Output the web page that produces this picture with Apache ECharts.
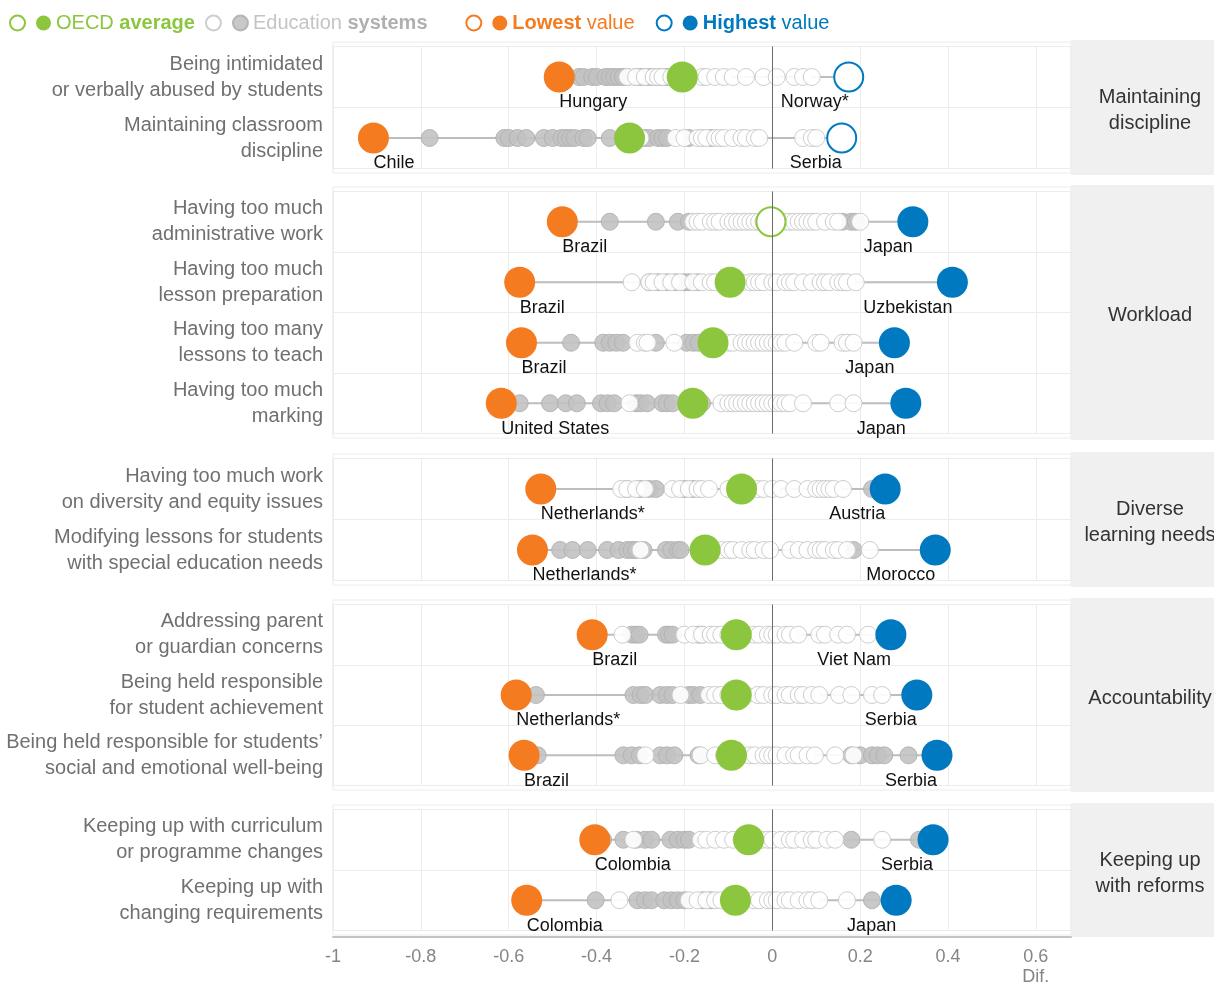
<!DOCTYPE html>
<html>
<head>
<meta charset="utf-8">
<script src="https://cdn.jsdelivr.net/npm/echarts@6/dist/echarts.min.js"></script>
<style>
  html, body { margin: 0; padding: 0; background: #fff; }
  #chart { width: 1214px; height: 986px; }
</style>
</head>
<body>
<div id="chart"></div>
<script>
// ---- data ----
const rowLabels = [
    'Being intimidated\nor verbally abused by students',
    'Maintaining classroom\ndiscipline',
    'Having too much\nadministrative work',
    'Having too much\nlesson preparation',
    'Having too many\nlessons to teach',
    'Having too much\nmarking',
    'Having too much work\non diversity and equity issues',
    'Modifying lessons for students\nwith special education needs',
    'Addressing parent\nor guardian concerns',
    'Being held responsible\nfor student achievement',
    'Being held responsible for students\u2019\nsocial and emotional well-being',
    'Keeping up with curriculum\nor programme changes',
    'Keeping up with\nchanging requirements'
];
const groupNames = ['Maintaining\ndiscipline', 'Workload', 'Diverse\nlearning needs', 'Accountability', 'Keeping up\nwith reforms'];
const groupSize = [2, 4, 2, 3, 2];

const oecdAverage = [-0.205, -0.325, -0.003, -0.096, -0.135, -0.181, -0.07, -0.153, -0.082, -0.082, -0.093, -0.054, -0.084];
const oecdSignificant = [1, 1, 0, 1, 1, 1, 1, 1, 1, 1, 1, 1, 1];

const lowestValue = [-0.485, -0.908, -0.478, -0.575, -0.571, -0.617, -0.527, -0.546, -0.41, -0.583, -0.565, -0.404, -0.559];
const lowestName = ['Hungary', 'Chile', 'Brazil', 'Brazil', 'Brazil', 'United States', 'Netherlands*', 'Netherlands*', 'Brazil', 'Netherlands*', 'Brazil', 'Colombia', 'Colombia'];

const highestValue = [0.174, 0.158, 0.32, 0.41, 0.278, 0.304, 0.257, 0.371, 0.27, 0.329, 0.375, 0.366, 0.282];
const highestName = ['Norway*', 'Serbia', 'Japan', 'Uzbekistan', 'Japan', 'Japan', 'Austria', 'Morocco', 'Viet Nam', 'Serbia', 'Serbia', 'Serbia', 'Japan'];
const highestSignificant = [0, 0, 1, 1, 1, 1, 1, 1, 1, 1, 1, 1, 1];

// education systems, significant difference (filled grey)
const systemsSignificant = [
    [-0.44, -0.43, -0.41, -0.40, -0.38, -0.37, -0.36, -0.35, -0.34, -0.33, -0.31, -0.30, -0.29, -0.28, -0.27, -0.26, -0.25, -0.24, -0.23],
    [-0.78, -0.61, -0.6, -0.58, -0.56, -0.52, -0.5, -0.48, -0.47, -0.46, -0.45, -0.43, -0.42, -0.37, -0.3, -0.29, -0.28, -0.26, -0.25, -0.24, -0.19, -0.14],
    [-0.37, -0.265, -0.215, -0.19, 0.16, 0.18, 0.19],
    [-0.28, -0.26, -0.24, -0.22, -0.2, -0.19, -0.17],
    [-0.458, -0.385, -0.37, -0.355, -0.34, -0.265, -0.195, -0.18, -0.168],
    [-0.575, -0.506, -0.47, -0.445, -0.39, -0.375, -0.36, -0.31, -0.3, -0.285, -0.25, -0.24, -0.227, -0.16],
    [-0.33, -0.3, -0.28, -0.265, -0.2, -0.18, 0.227],
    [-0.483, -0.455, -0.42, -0.376, -0.35, -0.33, -0.32, -0.31, -0.293, -0.242, -0.23, -0.215, -0.209, 0.185],
    [-0.32, -0.31, -0.302, -0.242, -0.235, -0.227, -0.168, -0.16],
    [-0.538, -0.316, -0.3, -0.289, -0.255, -0.24, -0.227, -0.19, -0.18, -0.164],
    [-0.534, -0.339, -0.32, -0.302, -0.255, -0.24, -0.223, -0.168, 0.18, 0.2, 0.227, 0.24, 0.255, 0.31],
    [-0.385, -0.339, -0.31, -0.29, -0.275, -0.232, -0.215, -0.2, -0.19, 0.18, 0.334],
    [-0.402, -0.307, -0.29, -0.275, -0.246, -0.23, -0.215, -0.2, -0.158, -0.14, 0.227]
];
// education systems, not significant (hollow)
const systemsNotSignificant = [
    [-0.33, -0.31, -0.29, -0.27, -0.26, -0.25, -0.23, -0.22, -0.16, -0.15, -0.13, -0.11, -0.09, -0.06, -0.02, 0.01, 0.05, 0.07, 0.09],
    [-0.3, -0.22, -0.2, -0.17, -0.16, -0.15, -0.13, -0.12, -0.11, -0.09, -0.07, -0.06, -0.04, -0.03, 0.07, 0.09, 0.1],
    [-0.18, -0.17, -0.16, -0.14, -0.13, -0.12, -0.1, -0.09, -0.08, -0.07, -0.06, -0.05, -0.04, -0.03, -0.02, -0.01, 0.01, 0.03, 0.04, 0.05, 0.06, 0.07, 0.08, 0.09, 0.1, 0.12, 0.14, 0.15, 0.2],
    [-0.32, -0.28, -0.27, -0.25, -0.23, -0.21, -0.18, -0.16, -0.14, -0.13, -0.07, -0.05, -0.04, -0.03, -0.02, 0.0, 0.01, 0.03, 0.04, 0.05, 0.07, 0.09, 0.11, 0.12, 0.13, 0.15, 0.16, 0.17, 0.19],
    [-0.307, -0.29, -0.284, -0.223, -0.1, -0.09, -0.07, -0.06, -0.05, -0.04, -0.03, -0.02, -0.01, 0.0, 0.01, 0.02, 0.03, 0.05, 0.1, 0.11, 0.16, 0.17, 0.185],
    [-0.325, -0.116, -0.1, -0.09, -0.08, -0.07, -0.06, -0.05, -0.04, -0.03, -0.02, -0.01, 0.0, 0.01, 0.02, 0.03, 0.04, 0.07, 0.15, 0.185],
    [-0.344, -0.33, -0.31, -0.29, -0.227, -0.21, -0.19, -0.17, -0.16, -0.144, -0.1, -0.033, -0.02, 0.0, 0.02, 0.05, 0.08, 0.1, 0.11, 0.12, 0.13, 0.14, 0.161],
    [-0.3, -0.116, -0.1, -0.09, -0.07, -0.05, -0.04, -0.02, -0.005, 0.041, 0.06, 0.08, 0.1, 0.11, 0.12, 0.14, 0.15, 0.17, 0.222],
    [-0.341, -0.2, -0.18, -0.16, -0.14, -0.13, -0.116, -0.1, -0.06, -0.042, -0.03, -0.01, 0.0, 0.01, 0.03, 0.04, 0.059, 0.107, 0.12, 0.15, 0.17, 0.218],
    [-0.209, -0.144, -0.13, -0.116, -0.1, -0.06, -0.033, -0.02, 0.0, 0.01, 0.03, 0.04, 0.06, 0.07, 0.09, 0.107, 0.152, 0.18, 0.227, 0.25],
    [-0.289, -0.163, -0.13, -0.11, -0.052, -0.04, -0.02, -0.01, 0.0, 0.01, 0.03, 0.05, 0.06, 0.08, 0.097, 0.143, 0.185],
    [-0.316, -0.163, -0.15, -0.13, -0.11, -0.089, -0.07, -0.024, -0.01, 0.0, 0.02, 0.04, 0.05, 0.07, 0.09, 0.1, 0.125, 0.143, 0.25],
    [-0.348, -0.19, -0.17, -0.15, -0.13, -0.116, -0.042, -0.03, -0.01, 0.0, 0.01, 0.03, 0.04, 0.06, 0.08, 0.09, 0.107, 0.17]
];
const xTicks = [-1, -0.8, -0.6, -0.4, -0.2, 0, 0.2, 0.4, 0.6];

// ---- style / layout ----
const FONT = "'Liberation Sans', Arial, sans-serif";
const GREEN = '#8cc63f', ORANGE = '#f47b20', BLUE = '#0079c1';
const GREY = '#bdbdbd', LIGHT = '#ececec';
const panelBox = [[40, 175], [185, 440], [452, 587], [598, 792], [803, 937]];
const plotLeft = 333, plotRight = 1071, pad = 6.5;

let grids = [], xAxes = [], yAxes = [], series = [], graphics = [];
let start = 0;

groupSize.forEach((n, p) => {
    let rows = [];
    for (let i = 0; i < n; i++) rows.push(start + i);
    start += n;
    let [y0, y1] = panelBox[p];
    let last = p === groupSize.length - 1;

    grids.push({
        left: plotLeft, right: 1214 - plotRight, top: y0 + pad, height: y1 - y0 - 2 * pad,
        show: true, borderColor: LIGHT, borderWidth: 1, outerBoundsMode: 'none'
    });
    xAxes.push({
        type: 'value', gridIndex: p, min: -1, max: 0.68, interval: 0.2,
        offset: last ? pad : 0,
        axisLine: {show: last, lineStyle: {color: '#c4c4c4', width: 2}},
        axisTick: {show: false},
        axisLabel: {
            show: last, showMaxLabel: false, color: '#858585', fontFamily: FONT, fontSize: 18,
            lineHeight: 20, margin: 10,
            formatter: (v) => {
                let r = Math.round(v * 10) / 10;
                if (xTicks.indexOf(r) < 0) return '';
                return r === 0.6 ? '0.6\nDif.' : String(r);
            }
        },
        splitLine: {show: true, lineStyle: {color: LIGHT, width: 1}}
    });
    yAxes.push({
        type: 'category', gridIndex: p, inverse: true,
        data: rows.map(r => rowLabels[r]),
        axisLine: {show: false}, axisTick: {show: false},
        axisLabel: {color: '#707070', fontFamily: FONT, fontSize: 20, lineHeight: 26, margin: 10, align: 'right'},
        splitLine: {show: true, lineStyle: {color: LIGHT, width: 1}}
    });

    let ax = {xAxisIndex: p, yAxisIndex: p};
    rows.forEach((r, i) => {
        let s = {
            type: 'line', ...ax, silent: true, symbol: 'none', z: 1,
            data: [[lowestValue[r], rowLabels[r]], [highestValue[r], rowLabels[r]]],
            lineStyle: {color: GREY, width: 2}
        };
        if (i === 0) {
            s.markLine = {
                silent: true, symbol: ['none', 'none'], label: {show: false},
                lineStyle: {color: '#6b6b6b', width: 1, type: 'solid'},
                data: [{xAxis: 0}]
            };
        }
        series.push(s);
    });

    let pts = (arr, flag) => rows.filter(r => flag == null || flag[r] === 1).flatMap(r => [].concat(arr[r]).map(v => [v, rowLabels[r]]));
    let notPts = (arr, flag) => rows.filter(r => flag[r] === 0).map(r => [arr[r], rowLabels[r]]);
    let nameLabel = (names, flag, want, align) => ({
        show: true, position: 'bottom', align: align, distance: 1,
        color: '#111', fontFamily: FONT, fontSize: 18,
        formatter: (d) => names[rows.filter(r => flag == null || flag[r] === want)[d.dataIndex]]
    });

    series.push({
        name: 'sysFilled', type: 'scatter', ...ax, z: 2, symbolSize: 17,
        itemStyle: {color: '#c2c2c2', borderColor: '#b0b0b0', borderWidth: 1, opacity: 0.9},
        data: pts(systemsSignificant)
    });
    series.push({
        name: 'sysHollow', type: 'scatter', ...ax, z: 3, symbolSize: 17,
        itemStyle: {color: '#ffffff', borderColor: '#c8c8c8', borderWidth: 1, opacity: 0.9},
        data: pts(systemsNotSignificant)
    });
    series.push({
        name: 'avgFilled', type: 'scatter', ...ax, z: 4, symbolSize: 31,
        itemStyle: {color: GREEN, opacity: 1},
        data: pts(oecdAverage, oecdSignificant)
    });
    series.push({
        name: 'avgHollow', type: 'scatter', ...ax, z: 4, symbolSize: 29,
        itemStyle: {color: '#ffffff', borderColor: GREEN, borderWidth: 2, opacity: 1},
        data: notPts(oecdAverage, oecdSignificant)
    });
    series.push({
        name: 'lowFilled', type: 'scatter', ...ax, z: 5, symbolSize: 31,
        itemStyle: {color: ORANGE, opacity: 1},
        label: nameLabel(lowestName, null, 1, 'left'),
        data: pts(lowestValue)
    });
    series.push({
        name: 'highFilled', type: 'scatter', ...ax, z: 5, symbolSize: 31,
        itemStyle: {color: BLUE, opacity: 1},
        label: nameLabel(highestName, highestSignificant, 1, 'right'),
        data: pts(highestValue, highestSignificant)
    });
    series.push({
        name: 'highHollow', type: 'scatter', ...ax, z: 5, symbolSize: 29,
        itemStyle: {color: '#ffffff', borderColor: BLUE, borderWidth: 2, opacity: 1},
        label: nameLabel(highestName, highestSignificant, 0, 'right'),
        data: notPts(highestValue, highestSignificant)
    });
    if (p === 0) {
        series.push({
            name: 'lowHollow', type: 'scatter', ...ax, symbolSize: 29,
            itemStyle: {color: '#ffffff', borderColor: ORANGE, borderWidth: 2, opacity: 1},
            data: []
        });
    }

    // outer panel frame, grey group box and its label
    graphics.push({
        type: 'rect', shape: {x: plotLeft, y: y0 + 2, width: plotRight - plotLeft, height: y1 - y0 - 4},
        style: {fill: 'none', stroke: LIGHT, lineWidth: 1}, silent: true, z: -1
    });
    graphics.push({
        type: 'rect', shape: {x: plotRight, y: y0, width: 1214 - plotRight + 20, height: y1 - y0},
        style: {fill: '#f0f0f0'}, silent: true, z: -1
    });
    graphics.push({
        type: 'text', x: 1150, y: (y0 + y1) / 2 + 3, silent: true,
        style: {
            text: groupNames[p], align: 'center', verticalAlign: 'middle',
            fill: '#333', fontFamily: FONT, fontSize: 20, lineHeight: 26
        }
    });
});

let legendText = {
    avgFilled: '{g|OECD }{gb|average}',
    sysFilled: '{s|Education }{sb|systems}{sp|\u00a0\u00a0\u00a0\u00a0\u00a0}',
    lowFilled: '{ob|Lowest}{o| value}{sp|\u00a0\u00a0}',
    highFilled: '{bb|Highest}{b| value}'
};
let rt = (c, w) => ({color: c, fontWeight: w, fontFamily: FONT, fontSize: 20});

var myChart = echarts.init(document.getElementById('chart'));
let option = {
    backgroundColor: '#ffffff',
    animation: false,
    legend: {
        left: 4, top: 8, icon: 'circle', itemWidth: 15, itemHeight: 15, itemGap: 10,
        selectedMode: false,
        data: ['avgHollow', 'avgFilled', 'sysHollow', 'sysFilled', 'lowHollow', 'lowFilled', 'highHollow', 'highFilled'],
        formatter: (name) => legendText[name] || '',
        textStyle: {
            fontFamily: FONT, fontSize: 20,
            rich: {
                g: rt(GREEN, 'normal'), gb: rt(GREEN, 'bold'),
                s: rt('#c4c4c4', 'normal'), sb: rt('#b0b0b0', 'bold'),
                sp: rt('#ffffff', 'normal'),
                o: rt(ORANGE, 'normal'), ob: rt(ORANGE, 'bold'),
                b: rt(BLUE, 'normal'), bb: rt(BLUE, 'bold')
            }
        }
    },
    grid: grids,
    xAxis: xAxes,
    yAxis: yAxes,
    graphic: graphics,
    series: series
};
myChart.setOption(option);
</script>
</body>
</html>
